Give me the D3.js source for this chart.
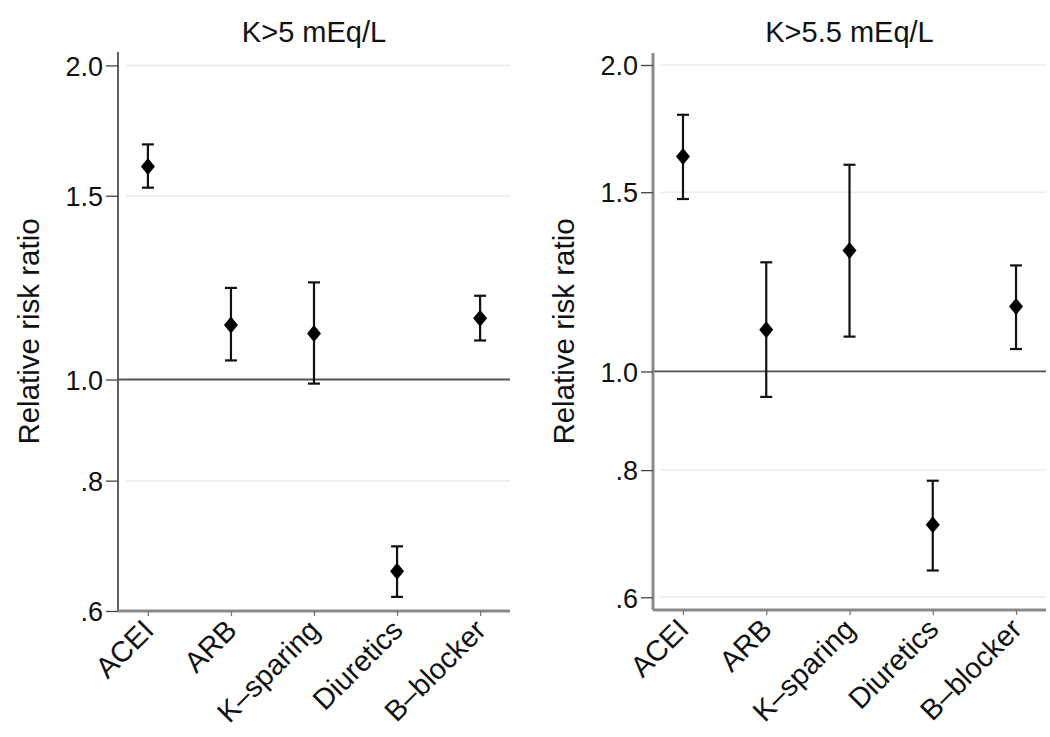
<!DOCTYPE html>
<html>
<head>
<meta charset="utf-8">
<script src="https://cdn.jsdelivr.net/npm/d3@7"></script>
<style>
  html, body { margin: 0; padding: 0; background: #fff; }
  svg { display: block; font-family: "Liberation Sans", Arial, Helvetica, sans-serif; }
</style>
</head>
<body>
<svg id="chart" width="1050" height="737"></svg>
<script>
// ---- data ----
const categories = ["ACEI", "ARB", "K\u2013sparing", "Diuretics", "B\u2013blocker"];
const yTickValues = [0.6, 0.8, 1.0, 1.5, 2.0];
const yTickLabels = [".6", ".8", "1.0", "1.5", "2.0"];
const panelTitles = ["K>5 mEq/L", "K>5.5 mEq/L"];
const yAxisTitle = "Relative risk ratio";

// K>5 mEq/L
const rr5 = [1.600, 1.128, 1.107, 0.655, 1.145];
const lo5 = [1.527, 1.043, 0.991, 0.619, 1.090];
const hi5 = [1.680, 1.224, 1.239, 0.692, 1.203];

// K>5.5 mEq/L
const rr55 = [1.626, 1.099, 1.315, 0.707, 1.158];
const lo55 = [1.477, 0.944, 1.082, 0.6375, 1.052];
const hi55 = [1.787, 1.280, 1.596, 0.781, 1.271];

// ---- layout ----
const panels = [
  { title: panelTitles[0], rr: rr5, lo: lo5, hi: hi5,
    x0: 118, x1: 510, yTop: 52, yBot: 611, dom: [0.6, 2.06], axisColor: "#606060", axisW: 2 },
  { title: panelTitles[1], rr: rr55, lo: lo55, hi: hi55,
    x0: 653, x1: 1046, yTop: 53, yBot: 610, dom: [0.583, 2.055], axisColor: "#8a8a8a", axisW: 3 }
];

const svg = d3.select("#chart");

panels.forEach(p => {
  const g = svg.append("g");
  const x = d3.scalePoint().domain(categories).range([p.x0, p.x1]).padding(0.36);
  const y = d3.scaleLog().domain(p.dom).range([p.yBot, p.yTop]);

  // gridlines
  g.append("g").selectAll("line").data(yTickValues).join("line")
    .attr("x1", p.x0 + 8).attr("x2", p.x1)
    .attr("y1", d => y(d)).attr("y2", d => y(d))
    .attr("stroke", "#ececec").attr("stroke-width", 1.5);

  // reference line at 1
  g.append("line")
    .attr("x1", p.x0).attr("x2", p.x1)
    .attr("y1", y(1)).attr("y2", y(1))
    .attr("stroke", "#555").attr("stroke-width", 1.8);

  // y axis
  const yAxis = d3.axisLeft(y).tickValues(yTickValues)
    .tickFormat((d, i) => yTickLabels[i]).tickSize(12).tickPadding(3).tickSizeOuter(0);
  const ya = g.append("g").attr("transform", `translate(${p.x0},0)`).call(yAxis);
  ya.select(".domain").attr("stroke", p.axisColor).attr("stroke-width", p.axisW)
    .attr("d", `M0,${p.yTop}V${p.yBot}`);
  ya.selectAll(".tick line").attr("stroke", "#444").attr("stroke-width", 1.3);
  ya.selectAll(".tick text").attr("fill", "#111").style("font-size", "27px")
    .attr("dy", "0.36em");

  // x axis
  const xAxis = d3.axisBottom(x).tickSize(5).tickSizeOuter(0);
  const xa = g.append("g").attr("transform", `translate(0,${p.yBot})`).call(xAxis);
  xa.select(".domain").attr("stroke", "#8a8a8a").attr("stroke-width", 3)
    .attr("d", `M${p.x0},0H${p.x1}`);
  xa.selectAll(".tick line").attr("stroke", "#777").attr("stroke-width", 1.3);
  xa.selectAll(".tick text")
    .attr("fill", "#111").style("font-size", "29px")
    .attr("text-anchor", "end")
    .attr("dy", 0).attr("y", 0)
    .attr("transform", "translate(7,21) rotate(-45)");

  // error bars
  const bars = g.append("g");
  categories.forEach((c, i) => {
    const cx = x(c);
    bars.append("line")
      .attr("x1", cx).attr("x2", cx)
      .attr("y1", y(p.lo[i])).attr("y2", y(p.hi[i]))
      .attr("stroke", "#111").attr("stroke-width", 2.2);
    [p.lo[i], p.hi[i]].forEach(v => {
      bars.append("line")
        .attr("x1", cx - 6).attr("x2", cx + 6)
        .attr("y1", y(v)).attr("y2", y(v))
        .attr("stroke", "#111").attr("stroke-width", 2.2);
    });
  });

  // markers (diamonds)
  g.append("g").selectAll("path").data(categories).join("path")
    .attr("transform", (c, i) => `translate(${x(c)},${y(p.rr[i])})`)
    .attr("d", "M0,-8.5L7,0L0,8.5L-7,0Z")
    .attr("fill", "#000");

  // panel title
  g.append("text")
    .attr("x", (p.x0 + p.x1) / 2).attr("y", 42)
    .attr("text-anchor", "middle").attr("fill", "#111")
    .style("font-size", "29px")
    .text(p.title);

  // y axis title
  g.append("text")
    .attr("transform", `translate(${p.x0 - 79},${(p.yTop + p.yBot) / 2}) rotate(-90)`)
    .attr("text-anchor", "middle").attr("fill", "#111")
    .style("font-size", "29.5px")
    .text(yAxisTitle);
});
</script>
</body>
</html>
